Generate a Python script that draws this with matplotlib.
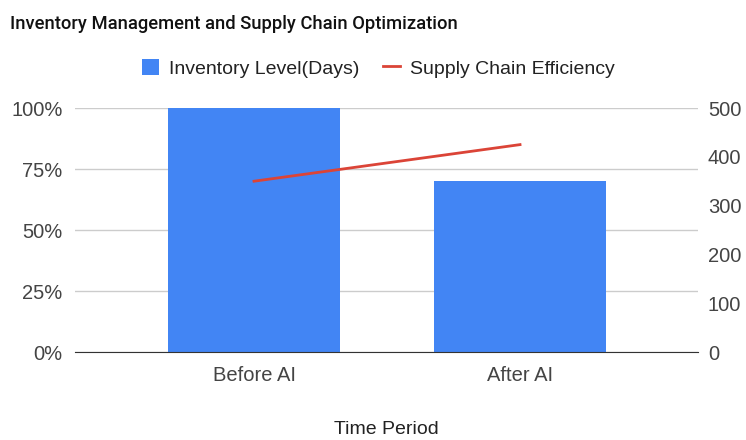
import matplotlib.pyplot as plt
from matplotlib.ticker import PercentFormatter

periodos = ['Before AI', 'After AI']
nivel_estoque = [100, 70]
eficiencia = [350, 425]

plt.rcParams['font.family'] = ['Liberation Sans', 'DejaVu Sans']

fig = plt.figure(figsize=(7.46, 4.4), dpi=100)
ax = fig.add_axes([0.1005, 0.2, 0.8355, 0.5545])
ax2 = ax.twinx()

x = list(range(len(periodos)))
barras = ax.bar(x, nivel_estoque, width=0.647, color='#4285f4', zorder=2,
                label='Inventory Level(Days)')
linha, = ax2.plot(x, eficiencia, color='#db4437', lw=2, zorder=3,
                  label='Supply Chain Efficiency')

ax.set_xlim(-0.673, 1.67)
ax.set_ylim(0, 100)
ax2.set_ylim(0, 500)
ax.set_yticks([0, 25, 50, 75, 100])
ax2.set_yticks([0, 100, 200, 300, 400, 500])
ax.yaxis.set_major_formatter(PercentFormatter(decimals=0))
ax.set_xticks(x)
ax.set_xticklabels(periodos)

ax.grid(axis='y', color='#cccccc', lw=1, zorder=0)
ax.set_axisbelow(True)
for a in (ax, ax2):
    for lado in ['top', 'left', 'right']:
        a.spines[lado].set_visible(False)
    a.tick_params(length=0, labelsize=14.5, labelcolor='#444444')
ax2.spines['bottom'].set_visible(False)
ax.spines['bottom'].set_color('#333333')
ax.tick_params(axis='x', pad=10)
ax.tick_params(axis='y', pad=9)
ax2.tick_params(axis='y', pad=7)
ax2.patch.set_visible(False)

ax.set_xlabel('Time Period', fontsize=14, color='#222222', labelpad=26)
fig.text(0.013, 0.945, 'Inventory Management and Supply Chain Optimization',
         fontsize=13.2, color='#111111', va='center', fontweight='medium',
         family=['Roboto', 'Liberation Sans', 'DejaVu Sans'])
fig.legend(handles=[barras, linha], loc='center', bbox_to_anchor=(0.507, 0.845),
           ncol=2, frameon=False, fontsize=14, handlelength=0.9, handleheight=0.9,
           columnspacing=1.2, handletextpad=0.5, labelcolor='#222222')

fig.savefig('out.png')
